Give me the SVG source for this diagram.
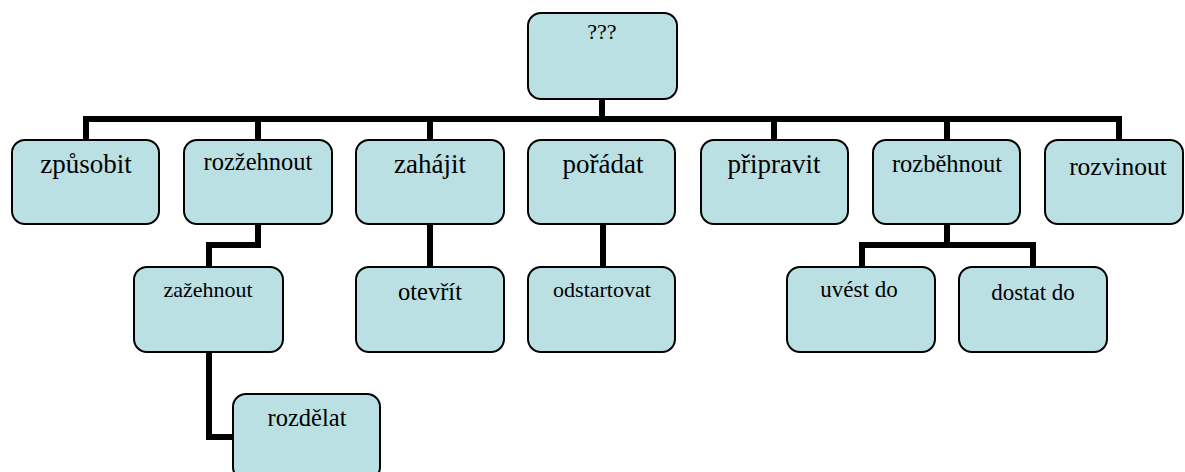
<svg xmlns="http://www.w3.org/2000/svg" width="1185" height="472" viewBox="0 0 1185 472">
  <style>
    .box { fill: #bbe0e3; stroke: #000; stroke-width: 2; }
    .wire { fill: none; stroke: #000; stroke-width: 6; stroke-linejoin: miter; }
    .lbl { font-family: 'Liberation Serif', 'Times New Roman', Tinos, 'DejaVu Serif', serif; fill: #000; text-anchor: middle; }
  </style>

  <!-- connectors -->
  <g id="connectors">
    <path class="wire" d="M602 99 V119"/>
    <path class="wire" d="M86 140 V119 H1119 V140"/>
    <path class="wire" d="M258 119 V140"/>
    <path class="wire" d="M430 119 V140"/>
    <path class="wire" d="M774 119 V140"/>
    <path class="wire" d="M947 119 V140"/>
    <!-- rozžehnout → zažehnout → rozdělat -->
    <path class="wire" d="M258 224 V245 H209 V267"/>
    <path class="wire" d="M209 352 V437 H234"/>
    <!-- zahájit → otevřít -->
    <path class="wire" d="M430 224 V267"/>
    <!-- pořádat → odstartovat -->
    <path class="wire" d="M603 224 V267"/>
    <!-- rozběhnout → uvést do / dostat do -->
    <path class="wire" d="M947 224 V245"/>
    <path class="wire" d="M862 267 V245 H1033 V267"/>
  </g>

  <g id="root">
    <rect class="box" x="528" y="13" width="149" height="86" rx="13"/>
    <text class="lbl" x="602" y="39" font-size="22">???</text>
  </g>

  <g id="zpusobit">
    <rect class="box" x="12" y="140" width="147" height="84" rx="13"/>
    <text class="lbl" x="86" y="173" font-size="27">způsobit</text>
  </g>
  <g id="rozzehnout">
    <rect class="box" x="184" y="140" width="148" height="84" rx="13"/>
    <text class="lbl" x="258" y="170" font-size="24.5">rozžehnout</text>
  </g>
  <g id="zahajit">
    <rect class="box" x="356" y="140" width="148" height="84" rx="13"/>
    <text class="lbl" x="430" y="173" font-size="27">zahájit</text>
  </g>
  <g id="poradat">
    <rect class="box" x="528" y="140" width="147" height="84" rx="13"/>
    <text class="lbl" x="603" y="173" font-size="27">pořádat</text>
  </g>
  <g id="pripravit">
    <rect class="box" x="701" y="140" width="147" height="84" rx="13"/>
    <text class="lbl" x="774" y="173" font-size="27">připravit</text>
  </g>
  <g id="rozbehnout">
    <rect class="box" x="873" y="140" width="147" height="84" rx="13"/>
    <text class="lbl" x="947" y="172" font-size="24.5">rozběhnout</text>
  </g>
  <g id="rozvinout">
    <rect class="box" x="1045" y="140" width="138" height="84" rx="13"/>
    <text class="lbl" x="1118" y="175" font-size="25.5">rozvinout</text>
  </g>

  <g id="zazehnout">
    <rect class="box" x="134" y="267" width="149" height="85" rx="13"/>
    <text class="lbl" x="208" y="297" font-size="22">zažehnout</text>
  </g>
  <g id="otevrit">
    <rect class="box" x="356" y="267" width="148" height="85" rx="13"/>
    <text class="lbl" x="430" y="300" font-size="24.5">otevřít</text>
  </g>
  <g id="odstartovat">
    <rect class="box" x="528" y="267" width="147" height="85" rx="13"/>
    <text class="lbl" x="602" y="297" font-size="22">odstartovat</text>
  </g>
  <g id="uvest-do">
    <rect class="box" x="787" y="267" width="148" height="85" rx="13"/>
    <text class="lbl" x="859" y="297" font-size="23">uvést do</text>
  </g>
  <g id="dostat-do">
    <rect class="box" x="959" y="267" width="148" height="85" rx="13"/>
    <text class="lbl" x="1033" y="300" font-size="23">dostat do</text>
  </g>

  <g id="rozdelat">
    <rect class="box" x="233" y="394" width="147" height="86" rx="13"/>
    <text class="lbl" x="307" y="426" font-size="24.5">rozdělat</text>
  </g>
</svg>
